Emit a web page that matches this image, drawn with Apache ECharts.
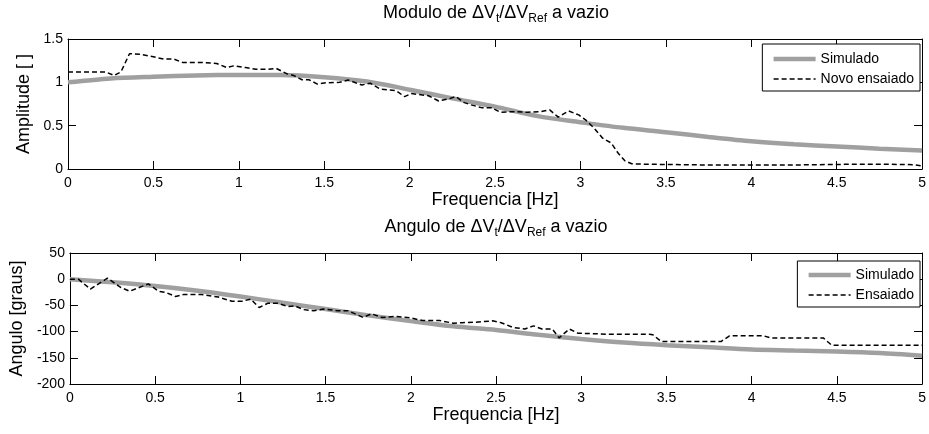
<!DOCTYPE html>
<html><head><meta charset="utf-8">
<script src="https://cdn.jsdelivr.net/npm/echarts@6/dist/echarts.min.js"></script>
<style>html,body{margin:0;padding:0;background:#fff}#c{width:929px;height:434px}</style>
</head><body><div id="c"></div>
<script>
// ---- data ----
const freqSim = [0,0.25,0.5,0.75,1,1.25,1.5,1.75,2,2.25,2.5,2.75,3,3.25,3.5,3.75,4,4.25,4.5,4.75,5];
const ampSim  = [1.00,1.045,1.065,1.08,1.085,1.085,1.06,1.01,0.915,0.815,0.72,0.61,0.54,0.475,0.425,0.37,0.32,0.285,0.26,0.235,0.213];
const ampMeasFreq = [0,0.22,0.27,0.31,0.36,0.42,0.5,0.56,0.62,0.67,0.77,0.87,0.93,0.97,1.04,1.10,1.16,1.22,1.28,1.32,1.37,1.41,1.46,1.51,1.59,1.64,1.72,1.77,1.83,1.92,1.97,2.01,2.11,2.17,2.23,2.27,2.32,2.36,2.42,2.48,2.53,2.60,2.69,2.77,2.82,2.87,2.93,2.99,3.03,3.08,3.13,3.18,3.22,3.26,3.30,3.39,3.6,3.8,4.0,4.2,4.4,4.6,4.8,4.95,5.0];
const ampMeas = [1.12,1.12,1.08,1.12,1.33,1.325,1.295,1.268,1.268,1.23,1.23,1.218,1.17,1.19,1.17,1.15,1.15,1.16,1.10,1.08,1.03,1.03,0.98,0.995,1.0,1.026,0.97,0.99,0.92,0.905,0.835,0.87,0.845,0.785,0.81,0.835,0.766,0.74,0.708,0.708,0.655,0.662,0.655,0.662,0.682,0.598,0.67,0.624,0.567,0.471,0.356,0.30,0.184,0.095,0.06,0.055,0.05,0.045,0.045,0.045,0.05,0.055,0.055,0.05,0.035];
const angSim  = [0,-6,-13,-22,-33,-45,-57,-69,-80,-90,-97,-106,-114,-121,-126,-130,-134,-136,-138,-141,-146];
const angMeasFreq = [0,0.05,0.12,0.22,0.30,0.35,0.46,0.52,0.56,0.62,0.67,0.77,0.87,0.95,1.01,1.06,1.11,1.16,1.22,1.28,1.32,1.37,1.43,1.49,1.57,1.63,1.72,1.77,1.83,1.91,2.00,2.07,2.17,2.25,2.30,2.38,2.48,2.53,2.60,2.67,2.72,2.77,2.83,2.87,2.93,2.98,3.16,3.40,3.42,3.47,3.82,3.87,4.07,4.11,4.42,4.47,5.0];
const angMeas = [0,0,-19,2,-16,-23,-9,-23,-25,-33,-29,-29,-34,-42,-42,-38,-54,-46,-46,-52,-51,-58,-60,-57,-60,-60,-73,-66,-73,-71,-74,-79,-79,-84,-83,-82,-79.5,-83,-92,-95,-89,-95,-95,-112,-95,-103,-105,-105,-106,-119,-119,-108,-108,-112,-112,-126,-126];
const ampTicks = [0, 1.5, 0.5];   // min, max, interval
const angTicks = [-200, 50, 50];
const freqTicks = [0, 5, 0.5];

// ---- chart ----
const FONT = '"Liberation Sans", Arial, Helvetica, sans-serif';
const pairs = (xs, ys) => xs.map((x, i) => [x, ys[i]]);
const grids = [
  {left: 68, top: 39, width: 858, height: 130},
  {left: 68, top: 253, width: 858, height: 131}
];
const line = {show: true, onZero: false, lineStyle: {color: '#000', width: 1}};
const tick = {show: true, inside: true, length: 8, lineStyle: {color: '#000', width: 1}};
function xAx(g, pos, labels) {
  return {
    type: 'value', gridIndex: g, position: pos,
    min: freqTicks[0], max: freqTicks[1], interval: freqTicks[2],
    axisLine: line, axisTick: tick, splitLine: {show: false},
    axisLabel: {show: labels, color: '#000', fontSize: 14, fontFamily: FONT, margin: 7, showMinLabel: true, showMaxLabel: true},
    name: labels ? 'Frequencia [Hz]' : '', nameLocation: 'middle', nameGap: 22,
    nameTextStyle: {color: '#000', fontSize: 18, fontFamily: FONT}
  };
}
function yAx(g, pos, labels, t, name, gap) {
  return {
    type: 'value', gridIndex: g, position: pos,
    min: t[0], max: t[1], interval: t[2],
    axisLine: line, axisTick: tick, splitLine: {show: false},
    axisLabel: {show: labels, color: '#000', fontSize: 14, fontFamily: FONT, margin: 5},
    name: labels ? name : '', nameLocation: 'middle', nameGap: gap,
    nameTextStyle: {color: '#000', fontSize: 18, fontFamily: FONT}
  };
}
function title(main, top) {
  return {
    text: '{a|' + main + ' de ΔV}{s|t}{a|/ΔV}{s|Ref}{a| a vazio}',
    left: 496, top: top, textAlign: 'center', padding: 0,
    textStyle: {fontWeight: 'normal', rich: {
      a: {fontSize: 18, lineHeight: 24, fontFamily: FONT, color: '#000', fontWeight: 'normal'},
      s: {fontSize: 12, lineHeight: 12, padding: [12, 0, 0, 0], fontFamily: FONT, color: '#000', fontWeight: 'normal'}
    }}
  };
}
const gray = {color: '#a0a0a0', width: 4.5};
const dash = {color: '#000', width: 1.5, type: [5, 3]};
function legItem(name, ls) {
  return {name: name, itemStyle: {opacity: 0, borderWidth: 0}, lineStyle: Object.assign({opacity: 1}, ls)};
}
function legend(names, styles, top, pad) {
  return {
    data: names.map((n, i) => legItem(n, styles[i])), orient: 'vertical', right: 9, top: top, padding: pad,
    itemWidth: 42, itemHeight: 14, itemGap: 6, selectedMode: false,
    backgroundColor: '#fff', borderColor: '#000', borderWidth: 1, borderRadius: 0,
    textStyle: {fontSize: 14, color: '#000', fontFamily: FONT}
  };
}
const option = {
  animation: false,
  backgroundColor: '#fff',
  title: [title('Modulo', 1), title('Angulo', 215)],
  legend: [legend(['Simulado', 'Novo ensaiado'], [gray, dash], 44, [8, 6, 5, 9]),
           legend(['Simulado', 'Ensaiado'], [gray, dash], 261, [7, 6, 5, 9])],
  grid: grids,
  xAxis: [xAx(0, 'bottom', true), xAx(0, 'top', false), xAx(1, 'bottom', true), xAx(1, 'top', false)],
  yAxis: [yAx(0, 'left', true, ampTicks, 'Amplitude [ ]', 31), yAx(0, 'right', false, ampTicks, '', 0),
          yAx(1, 'left', true, angTicks, 'Angulo [graus]', 37), yAx(1, 'right', false, angTicks, '', 0)],
  series: [
    {name: 'Simulado', type: 'line', xAxisIndex: 0, yAxisIndex: 0, data: pairs(freqSim, ampSim), symbol: 'none', smooth: 0.3, lineStyle: gray, itemStyle: {color: gray.color}},
    {name: 'Novo ensaiado', type: 'line', xAxisIndex: 0, yAxisIndex: 0, data: pairs(ampMeasFreq, ampMeas), symbol: 'none', lineStyle: dash, itemStyle: {color: '#000'}},
    {name: 'Simulado', type: 'line', xAxisIndex: 2, yAxisIndex: 2, data: pairs(freqSim, angSim), symbol: 'none', smooth: 0.3, lineStyle: gray, itemStyle: {color: gray.color}},
    {name: 'Ensaiado', type: 'line', xAxisIndex: 2, yAxisIndex: 2, data: pairs(angMeasFreq, angMeas), symbol: 'none', lineStyle: dash, itemStyle: {color: '#000'}}
  ]
};
const chart = echarts.init(document.getElementById('c'));
chart.setOption(option);
</script>
</body></html>
